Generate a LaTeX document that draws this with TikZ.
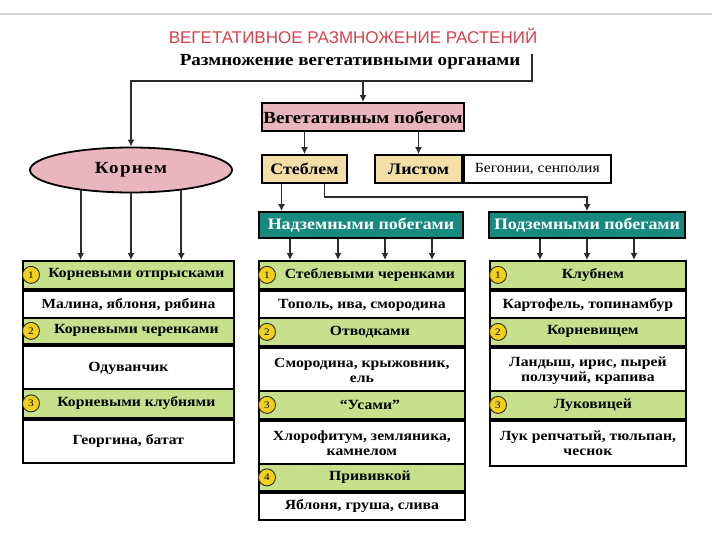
\documentclass[tikz,border=0pt]{standalone}
\usepackage{fontspec}
\setmainfont[FakeStretch=1.12]{Liberation Serif}
\newfontfamily\headfont{Liberation Sans}
\usetikzlibrary{arrows.meta,positioning,shapes.geometric}
\definecolor{Rose}{HTML}{E9B5BE}
\definecolor{Sand}{HTML}{F4DEA8}
\definecolor{Sea}{HTML}{17897F}
\definecolor{Leaf}{HTML}{C6E08C}
\definecolor{Gold}{HTML}{F2D11C}
\definecolor{Crimson}{HTML}{D8404C}
\definecolor{Ink}{HTML}{2B2B2B}

\begin{document}
\begin{tikzpicture}[x=1pt,y=-1pt,
    box/.style={draw=black,line width=1.8pt,inner sep=1pt,font=\bfseries\fontsize{14}{16}\selectfont},
    hdr/.style={box,fill=Leaf,anchor=north west},
    body/.style={box,fill=white,align=center,font=\bfseries\fontsize{14}{15}\selectfont},
    sea/.style={box,fill=Sea,text=white,minimum height=26,font=\bfseries\fontsize{16}{18}\selectfont},
    num/.style={circle,draw=Ink,line width=0.9pt,fill=Gold,inner sep=0pt,minimum size=17,font=\fontsize{10}{10}\selectfont},
    link/.style={Ink,line width=1.8pt},
    arr/.style={link,-{Latex[length=7pt,width=7pt]}}]
  \useasboundingbox (0,0) rectangle (720,540);
  \draw[gray!35,line width=1.5pt] (0,14) -- (712,14);

  \node[font=\headfont\fontsize{17}{17}\selectfont,text=Crimson] (title) at (353,36) {ВЕГЕТАТИВНОЕ РАЗМНОЖЕНИЕ РАСТЕНИЙ};
  \node[font=\bfseries\fontsize{17}{19}\selectfont,anchor=east] (organs) at (524,62) {Размножение вегетативными органами};
  \coordinate (c-top) at (532,54);
  \coordinate (c-corner) at (532,81);

  \node[ellipse,draw=black,fill=Rose,line width=1.8pt,minimum width=202,minimum height=45,
    font=\bfseries\fontsize{17}{19}\selectfont\addfontfeature{LetterSpace=8}] (root) at (131,170) {Корнем};
  \node[box,fill=Rose,minimum width=202,minimum height=28,font=\bfseries\fontsize{17}{19}\selectfont] (shoot) at (363,117) {Вегетативным побегом};
  \node[box,fill=Sand,minimum width=85,minimum height=28,font=\bfseries\fontsize{16}{18}\selectfont] (stem) at (304.5,169) {Стеблем};
  \node[box,fill=Sand,minimum width=87,minimum height=28,font=\bfseries\fontsize{16}{18}\selectfont] (leaf) at (418.5,169) {Листом};
  \node[box,fill=white,right=0pt of leaf,minimum width=147,minimum height=28,
    font=\fontsize{14}{16}\selectfont] (leafex) {Бегонии, сенполия};
  \node[sea,minimum width=204] (above) at (361,225) {Надземными побегами};
  \node[sea,minimum width=196] (under) at (587,225) {Подземными побегами};

  \foreach \n/\top/\hh/\bh/\head/\txt in {
      1/260/28/29/{Корневыми отпрысками}/{Малина, яблоня, рябина},
      2/317/26/45/{Корневыми черенками}/{Одуванчик},
      3/388/29/43/{Корневыми клубнями}/{Георгина, батат}}{
    \node[hdr,minimum width=211,minimum height=\hh] (kh\n) at (22,\top) {\hspace*{16pt}\head};
    \node[body,below=0pt of kh\n,minimum width=211,minimum height=\bh] (kb\n) {\txt};
    \node[num] (kn\n) at ([xshift=9pt]kh\n.west) {\n};
  }
  \foreach \n/\top/\hh/\bh/\head/\txt in {
      1/260/28/29/{Стеблевыми черенками}/{Тополь, ива, смородина},
      2/317/28/45/{Отводками}/{Смородина, крыжовник,\\ель},
      3/390/28/45/{“Усами”}/{Хлорофитум, земляника,\\камнелом},
      4/463/27/27/{Прививкой}/{Яблоня, груша, слива}}{
    \node[hdr,minimum width=206,minimum height=\hh] (sh\n) at (258,\top) {\hspace*{16pt}\head};
    \node[body,below=0pt of sh\n,minimum width=206,minimum height=\bh] (sb\n) {\txt};
    \node[num] (sn\n) at ([xshift=9pt]sh\n.west) {\n};
  }
  \foreach \n/\top/\hh/\bh/\head/\txt in {
      1/260/28/29/{Клубнем}/{Картофель, топинамбур},
      2/317/28/45/{Корневищем}/{Ландыш, ирис, пырей\\ползучий, крапива},
      3/390/28/45/{Луковицей}/{Лук репчатый, тюльпан,\\чеснок}}{
    \node[hdr,minimum width=196,minimum height=\hh] (uh\n) at (489,\top) {\hspace*{10pt}\head};
    \node[body,below=0pt of uh\n,minimum width=196,minimum height=\bh] (ub\n) {\txt};
    \node[num] (un\n) at ([xshift=9pt]uh\n.west) {\n};
  }

  \draw[arr] (c-top) -- (c-corner) -| (root.north);
  \draw[arr] (shoot.north |- c-corner) -- (shoot.north);
  \draw[arr] (shoot.south -| stem.north) -- (stem.north);
  \draw[arr] (shoot.south -| leaf.north) -- (leaf.north);
  \coordinate (s1) at ([xshift=-23pt]stem.south);
  \coordinate (s2) at ([xshift=20pt]stem.south);
  \coordinate (bend) at ([yshift=14pt]under.north);
  \draw[arr] (s1) -- (s1 |- above.north);
  \draw[arr] (s2) |- (bend) -- (under.north);
  \foreach \a in {-158,-90,-22}
    \draw[arr] (root.\a) -- (root.\a |- kh1.north);
  \foreach \d [count=\k] in {-71,-23,24,71}{
    \coordinate (ta\k) at ([xshift=\d pt]above.south);
    \draw[arr] (ta\k) -- (ta\k |- sh1.north);
  }
  \foreach \d [count=\k] in {-47,0,47}{
    \coordinate (ua\k) at ([xshift=\d pt]under.south);
    \draw[arr] (ua\k) -- (ua\k |- uh1.north);
  }
\end{tikzpicture}
\end{document}
